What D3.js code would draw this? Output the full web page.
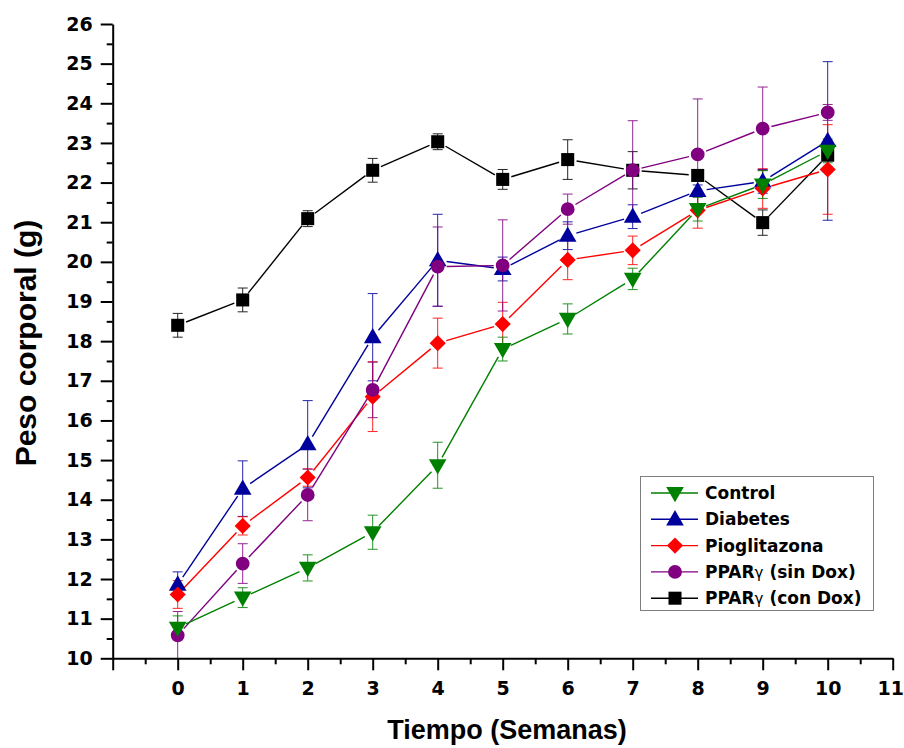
<!DOCTYPE html>
<html lang="es">
<head>
<meta charset="UTF-8">
<title>Peso corporal</title>
<script src="https://d3js.org/d3.v7.min.js"></script>
<style>
    body { margin: 0; background: #fff; }
    svg { display: block; }
    .axis path, .axis line { stroke: #000; stroke-width: 2; }
    .axis text { font-family: 'DejaVu Sans', sans-serif; font-weight: bold; font-size: 19px; fill: #000; }
    .title { font-family: 'Liberation Sans', Arial, sans-serif; font-weight: bold; fill: #000; }
    .legend text { font-family: 'DejaVu Sans', sans-serif; font-weight: bold; font-size: 17px; fill: #000; }
</style>
</head>
<body>
<svg width="904" height="748"></svg>
<script>
    // semanas
    const weeks = [0, 1, 2, 3, 4, 5, 6, 7, 8, 9, 10];

    // valores medios y error de cada grupo
    const control     = [10.77, 11.53, 12.28, 13.18, 14.87, 17.80, 18.56, 19.57, 21.33, 21.95, 22.80];
    const controlErr  = [0.30, 0.25, 0.33, 0.43, 0.58, 0.30, 0.38, 0.27, 0.30, 0.35, 0.30];
    const diabetes    = [11.86, 14.28, 15.40, 18.10, 20.04, 19.82, 20.66, 21.14, 21.79, 22.03, 23.05];
    const diabetesErr = [0.32, 0.70, 1.10, 1.10, 1.16, 0.30, 0.35, 0.30, 0.15, 0.30, 2.00];
    const pio         = [11.61, 13.34, 14.56, 16.60, 17.95, 18.43, 20.05, 20.29, 21.30, 21.85, 22.33];
    const pioErr      = [0.35, 0.23, 0.22, 0.88, 0.63, 0.55, 0.50, 0.36, 0.45, 0.50, 1.13];
    const ppSin       = [10.58, 12.39, 14.12, 16.77, 19.88, 19.91, 21.33, 22.31, 22.71, 23.36, 23.77];
    const ppSinErr    = [0.60, 0.50, 0.65, 0.70, 1.00, 1.15, 0.38, 1.25, 1.40, 1.05, 0.20];
    const ppCon       = [18.40, 19.04, 21.09, 22.31, 23.03, 22.08, 22.58, 22.31, 22.18, 20.99, 22.69];
    const ppConErr    = [0.30, 0.30, 0.20, 0.30, 0.20, 0.25, 0.50, 0.47, 0.12, 0.32, 0.30];

    const seriesNames = ["Control", "Diabetes", "Pioglitazona", "PPARγ (sin Dox)", "PPARγ (con Dox)"];
    const seriesColors = ["#008000", "#00009C", "#FF0000", "#800080", "#000000"];
    const seriesShapes = ["down", "up", "diamond", "circle", "square"];
    const seriesValues = [control, diabetes, pio, ppSin, ppCon];
    const seriesErrors = [controlErr, diabetesErr, pioErr, ppSinErr, ppConErr];

    const xTicks = d3.range(-1, 12);
    const xLabels = d3.range(0, 12);
    const yTicks = d3.range(10, 27);

    const series = seriesNames.map((name, i) => ({
        name: name,
        color: seriesColors[i],
        shape: seriesShapes[i],
        points: weeks.map((w, j) => ({ x: w, y: seriesValues[i][j], e: seriesErrors[i][j] }))
    }));
    // orden de dibujo: negro al fondo, control arriba
    const drawOrder = [4, 1, 2, 3, 0].map(i => series[i]);

    const svg = d3.select("svg");

    const x = d3.scaleLinear().domain([-1, 11]).range([112.7, 892.7]);
    const y = d3.scaleLinear().domain([10, 26]).range([658.3, 24]);

    // ejes
    svg.append("g")
        .attr("class", "axis")
        .attr("transform", `translate(${x(-1)},0)`)
        .call(d3.axisLeft(y).tickValues(yTicks).tickSize(12).tickSizeOuter(0).tickPadding(8).tickFormat(d3.format("d")));
    svg.append("g")
        .attr("class", "axis minor")
        .attr("transform", `translate(${x(-1)},0)`)
        .call(d3.axisLeft(y).tickValues(d3.range(10.5, 26, 1)).tickSize(6).tickFormat(""))
        .select(".domain").remove();

    const xAxis = svg.append("g")
        .attr("class", "axis")
        .attr("transform", `translate(0,${y(10)})`)
        .call(d3.axisBottom(x).tickValues(xTicks).tickSize(12).tickSizeOuter(0).tickPadding(11)
            .tickFormat(d => xLabels.includes(d) ? d : ""));
    // la etiqueta 11 queda pegada al borde
    xAxis.selectAll(".tick text").filter(d => d === 11).attr("dx", -2.5);
    svg.append("g")
        .attr("class", "axis minor")
        .attr("transform", `translate(0,${y(10)})`)
        .call(d3.axisBottom(x).tickValues(d3.range(-0.5, 11, 1)).tickSize(6).tickFormat(""))
        .select(".domain").remove();

    // titulos
    svg.append("text")
        .attr("class", "title")
        .attr("x", 507)
        .attr("y", 739)
        .attr("text-anchor", "middle")
        .style("font-size", "27px")
        .text("Tiempo (Semanas)");
    svg.append("text")
        .attr("class", "title")
        .attr("transform", "translate(36,343) rotate(-90)")
        .attr("text-anchor", "middle")
        .style("font-size", "30px")
        .text("Peso corporal (g)");

    function symbolPath(shape) {
        if (shape === "circle") return d3.symbol(d3.symbolCircle, 150)();
        if (shape === "square") return d3.symbol(d3.symbolSquare, 170)();
        if (shape === "diamond") return d3.symbol(d3.symbolSquare, 130)();
        return d3.symbol(d3.symbolTriangle, 135)();
    }
    function symbolTransform(shape, px, py) {
        if (shape === "diamond") return `translate(${px},${py}) rotate(45)`;
        if (shape === "down") return `translate(${px},${py - 1}) rotate(180)`;
        if (shape === "up") return `translate(${px},${py + 1})`;
        return `translate(${px},${py})`;
    }

    const plot = svg.append("g");
    const gap = 9;

    drawOrder.forEach(s => {
        const g = plot.append("g");
        // barras de error
        const eb = g.selectAll(".err").data(s.points).enter().append("g")
            .attr("stroke", s.color).attr("stroke-width", 1).attr("opacity", 0.85);
        eb.append("line")
            .attr("x1", d => x(d.x)).attr("x2", d => x(d.x))
            .attr("y1", d => y(Math.max(10, d.y - d.e))).attr("y2", d => y(d.y + d.e));
        eb.append("line")
            .attr("x1", d => x(d.x) - 5).attr("x2", d => x(d.x) + 5)
            .attr("y1", d => y(d.y + d.e)).attr("y2", d => y(d.y + d.e));
        eb.filter(d => d.y - d.e > 10).append("line")
            .attr("x1", d => x(d.x) - 5).attr("x2", d => x(d.x) + 5)
            .attr("y1", d => y(d.y - d.e)).attr("y2", d => y(d.y - d.e));

        // segmentos con hueco junto al simbolo
        const segs = d3.pairs(s.points).map(([a, b]) => {
            const x1 = x(a.x), y1 = y(a.y), x2 = x(b.x), y2 = y(b.y);
            const len = Math.hypot(x2 - x1, y2 - y1);
            const ux = (x2 - x1) / len, uy = (y2 - y1) / len;
            return { x1: x1 + ux * gap, y1: y1 + uy * gap, x2: x2 - ux * gap, y2: y2 - uy * gap, ok: len > 2 * gap };
        });
        g.selectAll(".seg").data(segs.filter(d => d.ok)).enter().append("line")
            .attr("x1", d => d.x1).attr("y1", d => d.y1)
            .attr("x2", d => d.x2).attr("y2", d => d.y2)
            .attr("stroke", s.color).attr("stroke-width", 1.4);
    });

    drawOrder.forEach(s => {
        plot.append("g").selectAll("path").data(s.points).enter().append("path")
            .attr("d", symbolPath(s.shape))
            .attr("transform", d => symbolTransform(s.shape, x(d.x), y(d.y)))
            .attr("fill", s.color);
    });

    // leyenda
    const legend = svg.append("g").attr("class", "legend");
    legend.append("rect")
        .attr("x", 640.5).attr("y", 476.5)
        .attr("width", 233).attr("height", 134)
        .attr("fill", "#fff").attr("stroke", "#7f7f7f").attr("stroke-width", 1);

    series.forEach((s, i) => {
        const cy = 493 + i * 26.3;
        const row = legend.append("g");
        row.append("line")
            .attr("x1", 651).attr("x2", 698).attr("y1", cy).attr("y2", cy)
            .attr("stroke", s.color).attr("stroke-width", 1.4);
        row.append("path")
            .attr("d", symbolPath(s.shape))
            .attr("transform", symbolTransform(s.shape, 675, cy))
            .attr("fill", s.color);
        const t = row.append("text").attr("x", 705).attr("y", cy).attr("dy", "0.36em");
        if (s.name.startsWith("PPARγ")) {
            t.append("tspan").text("PPAR");
            t.append("tspan").attr("font-weight", "normal").attr("font-size", "15px").text("γ");
            t.append("tspan").text(s.name.slice(5));
        } else {
            t.text(s.name);
        }
    });
</script>
</body>
</html>
